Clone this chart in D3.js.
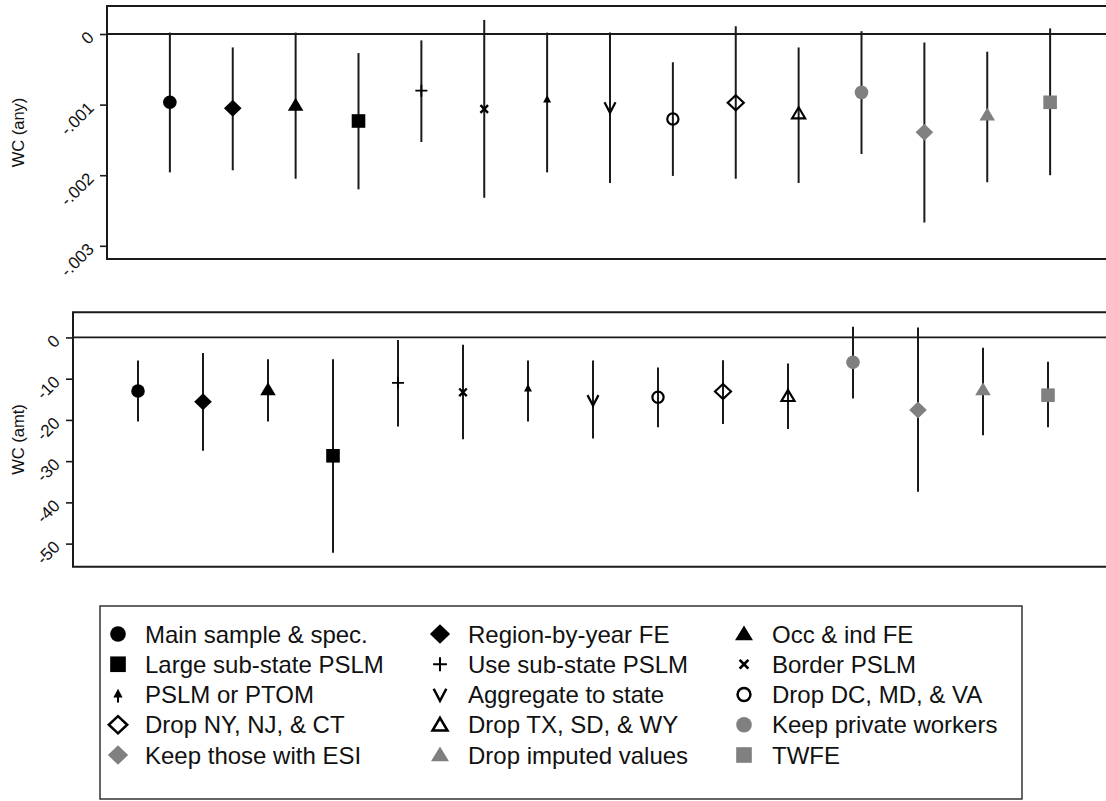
<!DOCTYPE html>
<html>
<head>
<meta charset="utf-8">
<script src="https://cdn.jsdelivr.net/npm/d3@7"></script>
<style>
  body { margin: 0; background: #fff; }
  svg { display: block; }
  text { font-family: "Liberation Sans", Arial, sans-serif; fill: #111; }
</style>
</head>
<body>
<svg id="chart" width="1106" height="801"></svg>
<script>
// Robustness specifications, in plotting order
const categories = [
  "Main sample & spec.", "Region-by-year FE", "Occ & ind FE",
  "Large sub-state PSLM", "Use sub-state PSLM", "Border PSLM",
  "PSLM or PTOM", "Aggregate to state", "Drop DC, MD, & VA",
  "Drop NY, NJ, & CT", "Drop TX, SD, & WY", "Keep private workers",
  "Keep those with ESI", "Drop imputed values", "TWFE"
];

// WC (any): point estimates and confidence bounds
const anyEst = [-0.000967, -0.001053, -0.00101, -0.001232, -0.000803, -0.001062, -0.000935, -0.001038, -0.001204, -0.000973, -0.001123, -0.000826, -0.001393, -0.001147, -0.000967];
const anyLo  = [-0.00196, -0.00193, -0.00205, -0.00220, -0.00153, -0.00232, -0.00196, -0.00211, -0.00201, -0.00205, -0.00211, -0.00170, -0.00267, -0.00210, -0.00200];
const anyHi  = [0.00002, -0.00019, 0.00002, -0.00027, -0.00009, 0.00020, 0.00002, 0.00002, -0.00040, 0.00011, -0.00019, 0.00004, -0.00012, -0.00025, 0.00008];

// WC (amt): point estimates and confidence bounds
const amtEst = [-13.0, -15.6, -12.7, -28.7, -11.0, -13.3, -12.5, -15.2, -14.5, -13.1, -14.2, -6.0, -17.6, -12.7, -14.0];
const amtLo  = [-20.4, -27.5, -20.4, -52.2, -21.6, -24.7, -20.4, -24.5, -21.8, -21.0, -22.2, -14.8, -37.4, -23.7, -21.8];
const amtHi  = [-5.6, -3.8, -5.3, -5.3, -0.6, -1.8, -5.6, -5.6, -7.3, -5.5, -6.3, 2.6, 2.4, -2.5, -5.9];

// Axis ticks
const anyTicks = [0, -0.001, -0.002, -0.003];
const anyTickLabels = ["0", "-.001", "-.002", "-.003"];
const amtTicks = [0, -10, -20, -30, -40, -50];
const amtTickLabels = ["0", "-10", "-20", "-30", "-40", "-50"];

// Marker look for each specification
const BLACK = "#000", GREY = "#808080";
const markerStyles = [
  { shape: "circle", color: BLACK }, { shape: "diamond", color: BLACK }, { shape: "triangle", color: BLACK },
  { shape: "square", color: BLACK }, { shape: "plus", color: BLACK }, { shape: "x", color: BLACK },
  { shape: "smtriangle", color: BLACK }, { shape: "v", color: BLACK }, { shape: "ocircle", color: BLACK },
  { shape: "odiamond", color: BLACK }, { shape: "otriangle", color: BLACK }, { shape: "circle", color: GREY },
  { shape: "diamond", color: GREY }, { shape: "triangle", color: GREY }, { shape: "square", color: GREY }
];

const svg = d3.select("#chart");
const LINE = "#1a1a1a";
const TICK_FONT = 17;
const TITLE_FONT = 16.5;
const LEGEND_FONT = 24;

function drawMarker(g, style, legend) {
  const c = style.color;
  switch (style.shape) {
    case "circle":
      g.append("circle").attr("r", 6.8).attr("fill", c); break;
    case "ocircle":
      g.append("circle").attr("r", 5.6).attr("fill", "none").attr("stroke", c).attr("stroke-width", 2.2); break;
    case "diamond":
      g.append("path").attr("d", "M0,-8.5L8.8,0L0,8.5L-8.8,0Z").attr("fill", c); break;
    case "odiamond":
      g.append("path").attr("d", "M0,-7.5L8,0L0,7.5L-8,0Z").attr("fill", "none").attr("stroke", c).attr("stroke-width", 2.2); break;
    case "triangle":
      g.append("path").attr("d", "M0,-7.5L7.8,5.5L-7.8,5.5Z").attr("fill", c); break;
    case "otriangle":
      g.append("path").attr("d", "M0,-6L6.5,5L-6.5,5Z").attr("fill", "none").attr("stroke", c).attr("stroke-width", 2.2); break;
    case "smtriangle":
      g.append("path").attr("d", "M0,-5L4,2.5L-4,2.5Z").attr("fill", c);
      if (legend) g.append("line").attr("y1", 0).attr("y2", 7).attr("stroke", c).attr("stroke-width", 1.8);
      break;
    case "square":
      g.append("rect").attr("x", -6.8).attr("y", -6.8).attr("width", 13.6).attr("height", 13.6).attr("fill", c); break;
    case "plus":
      g.append("path").attr("d", "M-6,0H6M0,-6V6").attr("stroke", c).attr("stroke-width", 1.8); break;
    case "x":
      g.append("path").attr("d", "M-3.8,-3.8L3.8,3.8M-3.8,3.8L3.8,-3.8").attr("stroke", c).attr("stroke-width", 2.4); break;
    case "v":
      g.append("path").attr("d", "M-5.5,-5L0,5.5L5.5,-5").attr("fill", "none").attr("stroke", c).attr("stroke-width", 2.2); break;
  }
}

function drawPanel(cfg) {
  const { x, y, est, lo, hi, ticks, tickLabels, title, titleX } = cfg;
  const g = svg.append("g");
  const [x0, x1] = x.range();
  const [yb, yt] = y.range();

  // y axis ticks and rotated labels
  const axis = d3.axisLeft(y).tickValues(ticks).tickSize(7)
    .tickFormat((d, i) => tickLabels[i]);
  const ag = g.append("g").attr("transform", `translate(${x0},0)`).call(axis);
  ag.select(".domain").remove();
  ag.selectAll(".tick line").attr("stroke", LINE).attr("stroke-width", 1.6);
  ag.selectAll(".tick text")
    .attr("x", null).attr("dy", null)
    .attr("text-anchor", "end")
    .attr("transform", "translate(-12,4) rotate(-45)")
    .style("font-size", TICK_FONT + "px")
    .style("font-family", '"Liberation Sans", Arial, sans-serif')
    .attr("fill", "#111");

  // frame
  g.append("path")
    .attr("d", `M${x1},${yt}H${x0}V${yb}H${x1}`)
    .attr("fill", "none").attr("stroke", LINE).attr("stroke-width", 2);

  // zero reference line
  g.append("line")
    .attr("x1", x0).attr("x2", x1).attr("y1", y(0)).attr("y2", y(0))
    .attr("stroke", LINE).attr("stroke-width", 1.8);

  // confidence intervals
  g.selectAll(".ci").data(est).join("line")
    .attr("class", "ci")
    .attr("x1", (d, i) => x(i + 1)).attr("x2", (d, i) => x(i + 1))
    .attr("y1", (d, i) => y(hi[i])).attr("y2", (d, i) => y(lo[i]))
    .attr("stroke", LINE).attr("stroke-width", 2);

  // point estimates
  g.selectAll(".pt").data(est).join("g")
    .attr("class", "pt")
    .attr("transform", (d, i) => `translate(${x(i + 1)},${y(d)})`)
    .each(function (d, i) { drawMarker(d3.select(this), markerStyles[i], false); });

  // y title
  g.append("text")
    .attr("transform", `translate(${titleX},${(yt + yb) / 2}) rotate(-90)`)
    .attr("text-anchor", "middle")
    .style("font-size", TITLE_FONT + "px")
    .text(title);
}

// Upper panel: WC (any)
drawPanel({
  x: d3.scaleLinear().domain([0, 16]).range([107, 1113]),
  y: d3.scaleLinear().domain([-0.003187, 0.000397]).range([259, 6]),
  est: anyEst, lo: anyLo, hi: anyHi,
  ticks: anyTicks, tickLabels: anyTickLabels,
  title: "WC (any)", titleX: 24
});

// Lower panel: WC (amt)
drawPanel({
  x: d3.scaleLinear().domain([0, 16]).range([73, 1113]),
  y: d3.scaleLinear().domain([-55.6, 6.1]).range([566.7, 312.3]),
  est: amtEst, lo: amtLo, hi: amtHi,
  ticks: amtTicks, tickLabels: amtTickLabels,
  title: "WC (amt)", titleX: 24
});

// Legend: 3 columns, row-major
const legend = svg.append("g");
legend.append("rect")
  .attr("x", 100).attr("y", 606).attr("width", 922).attr("height", 193)
  .attr("fill", "#fff").attr("stroke", "#333").attr("stroke-width", 1.5);

const colMarkerX = [118, 440, 744];
const colTextX = [145, 468, 772];
const rowY = d3.scaleLinear().domain([0, 4]).range([634, 755]);

categories.forEach((name, i) => {
  const col = i % 3, row = Math.floor(i / 3);
  const cy = rowY(row);
  const mg = legend.append("g").attr("transform", `translate(${colMarkerX[col]},${cy}) scale(1.15)`);
  drawMarker(mg, markerStyles[i], true);
  legend.append("text")
    .attr("x", colTextX[col]).attr("y", cy + 8.5)
    .style("font-size", LEGEND_FONT + "px")
    .text(name);
});
</script>
</body>
</html>
